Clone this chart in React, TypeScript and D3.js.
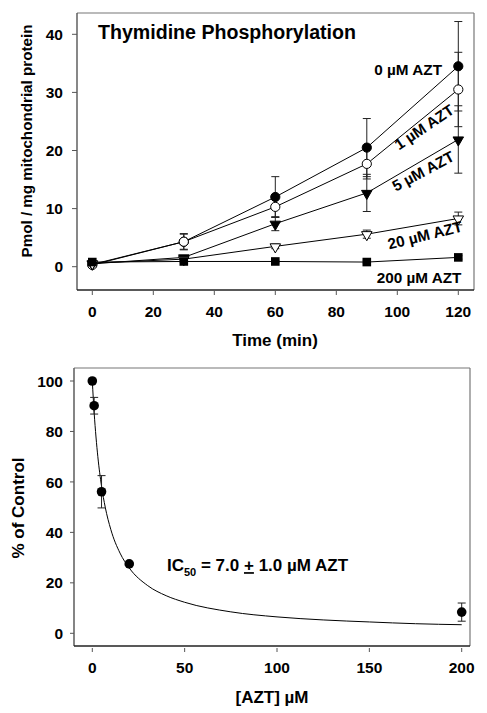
import React from "react";
import * as d3 from "d3";

// ---------- Top panel data ----------
const times = [0, 30, 60, 90, 120];
const xTicksTop = [0, 20, 40, 60, 80, 100, 120];
const yTicksTop = [0, 10, 20, 30, 40];

const s0 = [0.4, 4.3, 12.0, 20.5, 34.5];
const e0 = [0.3, 1.4, 3.5, 5.0, 7.7];
const s1 = [0.3, 4.3, 10.3, 17.7, 30.5];
const e1 = [0.3, 1.3, 1.8, 2.6, 6.4];
const s5 = [0.5, 1.6, 7.4, 12.7, 21.9];
const e5 = [0.2, 0.3, 1.2, 3.2, 5.8];
const s20 = [0.6, 1.3, 3.5, 5.6, 8.3];
const e20 = [0.2, 0.3, 0.4, 0.7, 1.1];
const s200 = [0.8, 0.9, 0.9, 0.8, 1.6];
const e200 = [0.2, 0.2, 0.2, 0.2, 0.3];

const seriesNames = ["0 \u00b5M AZT", "1 \u00b5M AZT", "5 \u00b5M AZT", "20 \u00b5M AZT", "200 \u00b5M AZT"];

// ---------- Bottom panel data ----------
const conc = [0, 1, 5, 20, 200];
const pct = [100, 90.2, 56.1, 27.5, 8.4];
const pctErr = [0, 3.3, 6.4, 0.5, 3.6];
const fitX = [0, 1, 2, 3, 5, 7, 10, 15, 20, 30, 40, 50, 75, 100, 125, 150, 175, 200];
const fitY = [100, 87.5, 77.8, 70, 58.3, 50, 41.2, 31.8, 25.9, 18.9, 14.9, 12.3, 8.5, 6.5, 5.3, 4.5, 3.8, 3.4];
const xTicksBot = [0, 50, 100, 150, 200];
const yTicksBot = [0, 20, 40, 60, 80, 100];

const FONT = "'Liberation Sans', Arial, sans-serif";

type Marker = "circleFilled" | "circleOpen" | "triFilled" | "triOpen" | "square";

function MarkerShape({ kind, x, y }: { kind: Marker; x: number; y: number }) {
  if (kind === "circleFilled") return <circle cx={x} cy={y} r={4.6} fill="#000" stroke="#000" strokeWidth={1} />;
  if (kind === "circleOpen") return <circle cx={x} cy={y} r={4.6} fill="#fff" stroke="#000" strokeWidth={1} />;
  if (kind === "square") return <rect x={x - 4.3} y={y - 4.3} width={8.6} height={8.6} fill="#000" />;
  const tri = d3.symbol().type(d3.symbolTriangle).size(48)();
  return (
    <path
      d={tri || ""}
      transform={`translate(${x},${y + 0.5}) rotate(180)`}
      fill={kind === "triFilled" ? "#000" : "#fff"}
      stroke="#000"
      strokeWidth={1}
    />
  );
}

function App() {
  const xT = d3.scaleLinear().domain([0, 120]).range([92.3, 458.3]);
  const yT = d3.scaleLinear().domain([0, 40]).range([266.7, 34.3]);
  const topFrame = { l: 77, r: 474, t: 13, b: 290 };

  const xB = d3.scaleLinear().domain([0, 200]).range([92.3, 461.7]);
  const yB = d3.scaleLinear().domain([0, 100]).range([633.3, 381]);
  const botFrame = { l: 74, r: 470, t: 368, b: 646 };

  const series: { v: number[]; e: number[]; m: Marker }[] = [
    { v: s0, e: e0, m: "circleFilled" },
    { v: s1, e: e1, m: "circleOpen" },
    { v: s5, e: e5, m: "triFilled" },
    { v: s20, e: e20, m: "triOpen" },
    { v: s200, e: e200, m: "square" },
  ];

  const lineT = d3
    .line<number>()
    .x((_, i) => xT(times[i]))
    .y((d) => yT(d));

  const fitLine = d3
    .line<number>()
    .x((_, i) => xB(fitX[i]))
    .y((d) => yB(d))
    .curve(d3.curveMonotoneX);

  const errColor = "#222";
  const cap = 4;
  const tickFs = 15.5;

  return (
    <svg
      width={487}
      height={713}
      style={{ position: "absolute", left: 0, top: 0, background: "#fff" }}
      fontFamily={FONT}
    >
      <rect x={0} y={0} width={487} height={713} fill="#fff" />

      {/* ===== TOP PANEL ===== */}
      <line x1={topFrame.l} y1={topFrame.t} x2={topFrame.r} y2={topFrame.t} stroke="#777" strokeWidth={1.2} />
      <line x1={topFrame.r} y1={topFrame.t} x2={topFrame.r} y2={topFrame.b} stroke="#777" strokeWidth={1.2} />
      <line x1={topFrame.l} y1={topFrame.t} x2={topFrame.l} y2={topFrame.b} stroke="#555" strokeWidth={1.4} />
      <line x1={topFrame.l} y1={topFrame.b} x2={topFrame.r} y2={topFrame.b} stroke="#222" strokeWidth={1.4} />

      {yTicksTop.map((t) => (
        <g key={"yt" + t}>
          <line x1={topFrame.l - 5} x2={topFrame.l} y1={yT(t)} y2={yT(t)} stroke="#555" strokeWidth={1} />
          <text x={63} y={yT(t)} dy="0.36em" textAnchor="end" fontSize={tickFs} fontWeight="bold">
            {t}
          </text>
        </g>
      ))}
      {xTicksTop.map((t) => (
        <g key={"xt" + t}>
          <line x1={xT(t)} x2={xT(t)} y1={topFrame.b + 1} y2={topFrame.b + 5} stroke="#555" strokeWidth={1} />
          <text x={xT(t)} y={311} dy="0.36em" textAnchor="middle" fontSize={tickFs} fontWeight="bold">
            {t}
          </text>
        </g>
      ))}

      <text x={275} y={340} dy="0.36em" textAnchor="middle" fontSize={17} fontWeight="bold">
        Time (min)
      </text>
      <text
        transform={`translate(27,141) rotate(-90)`}
        dy="0.36em"
        textAnchor="middle"
        fontSize={15.2}
        fontWeight="bold"
      >
        Pmol / mg mitochondrial protein
      </text>

      <text x={98} y={32} dy="0.36em" fontSize={19.6} fontWeight="bold">
        Thymidine Phosphorylation
      </text>

      {series.map((s, si) =>
        s.v.map((v, i) => {
          const x = xT(times[i]);
          const y1 = yT(v + s.e[i]);
          const y2 = yT(v - s.e[i]);
          return (
            <g key={`eb${si}-${i}`} stroke={errColor} strokeWidth={1}>
              <line x1={x} x2={x} y1={y1} y2={y2} />
              <line x1={x - cap} x2={x + cap} y1={y1} y2={y1} />
              <line x1={x - cap} x2={x + cap} y1={y2} y2={y2} />
            </g>
          );
        })
      )}
      {series.map((s, si) => (
        <path key={"ln" + si} d={lineT(s.v) || ""} fill="none" stroke="#000" strokeWidth={1} />
      ))}
      {series.map((s, si) =>
        s.v.map((v, i) => <MarkerShape key={`mk${si}-${i}`} kind={s.m} x={xT(times[i])} y={yT(v)} />)
      )}

      <text x={442} y={69} dy="0.36em" textAnchor="end" fontSize={15.3} fontWeight="bold">
        {seriesNames[0]}
      </text>
      <text transform="translate(424,127) rotate(-34)" dy="0.36em" textAnchor="middle" fontSize={15.3} fontWeight="bold">
        {seriesNames[1]}
      </text>
      <text transform="translate(423,171) rotate(-28)" dy="0.36em" textAnchor="middle" fontSize={15.3} fontWeight="bold">
        {seriesNames[2]}
      </text>
      <text transform="translate(425,235) rotate(-14)" dy="0.36em" textAnchor="middle" fontSize={15.3} fontWeight="bold">
        {seriesNames[3]}
      </text>
      <text x={419} y={277} dy="0.36em" textAnchor="middle" fontSize={15.3} fontWeight="bold">
        {seriesNames[4]}
      </text>

      {/* ===== BOTTOM PANEL ===== */}
      <line x1={botFrame.l} y1={botFrame.t} x2={botFrame.r} y2={botFrame.t} stroke="#777" strokeWidth={1.2} />
      <line x1={botFrame.r} y1={botFrame.t} x2={botFrame.r} y2={botFrame.b} stroke="#777" strokeWidth={1.2} />
      <line x1={botFrame.l} y1={botFrame.t} x2={botFrame.l} y2={botFrame.b} stroke="#666" strokeWidth={1.6} />
      <line x1={botFrame.l} y1={botFrame.b} x2={botFrame.r} y2={botFrame.b} stroke="#222" strokeWidth={1.4} />

      {yTicksBot.map((t) => (
        <g key={"yb" + t}>
          <line x1={botFrame.l - 4} x2={botFrame.l} y1={yB(t)} y2={yB(t)} stroke="#555" strokeWidth={1} />
          <text x={63} y={yB(t)} dy="0.36em" textAnchor="end" fontSize={tickFs} fontWeight="bold">
            {t}
          </text>
        </g>
      ))}
      {xTicksBot.map((t) => (
        <g key={"xb" + t}>
          <line x1={xB(t)} x2={xB(t)} y1={botFrame.b + 2} y2={botFrame.b + 6} stroke="#555" strokeWidth={1} />
          <text x={xB(t)} y={667} dy="0.36em" textAnchor="middle" fontSize={tickFs} fontWeight="bold">
            {t}
          </text>
        </g>
      ))}

      <text x={272} y={697} dy="0.36em" textAnchor="middle" fontSize={17} fontWeight="bold">
        [AZT] {"\u00b5"}M
      </text>
      <text transform="translate(18,508) rotate(-90)" dy="0.36em" textAnchor="middle" fontSize={17} fontWeight="bold">
        % of Control
      </text>

      <path d={fitLine(fitY) || ""} fill="none" stroke="#000" strokeWidth={1} />

      {conc.map((c, i) => {
        const x = xB(c);
        const e = pctErr[i];
        if (!e) return null;
        const y1 = yB(pct[i] + e);
        const y2 = yB(pct[i] - e);
        return (
          <g key={"be" + i} stroke={errColor} strokeWidth={1}>
            <line x1={x} x2={x} y1={y1} y2={y2} />
            <line x1={x - 4} x2={x + 4} y1={y1} y2={y1} />
            <line x1={x - 4} x2={x + 4} y1={y2} y2={y2} />
          </g>
        );
      })}
      {conc.map((c, i) => (
        <circle key={"bp" + i} cx={xB(c)} cy={yB(pct[i])} r={4.8} fill="#000" />
      ))}

      <text x={167} y={565} dy="0.36em" fontSize={17} fontWeight="bold">
        IC
        <tspan fontSize={11} dy="5">50</tspan>
        <tspan dy="-5"> = 7.0 </tspan>
        <tspan textDecoration="underline">+</tspan>
        <tspan> 1.0 {"\u00b5"}M AZT</tspan>
      </text>
    </svg>
  );
}

export default App;
